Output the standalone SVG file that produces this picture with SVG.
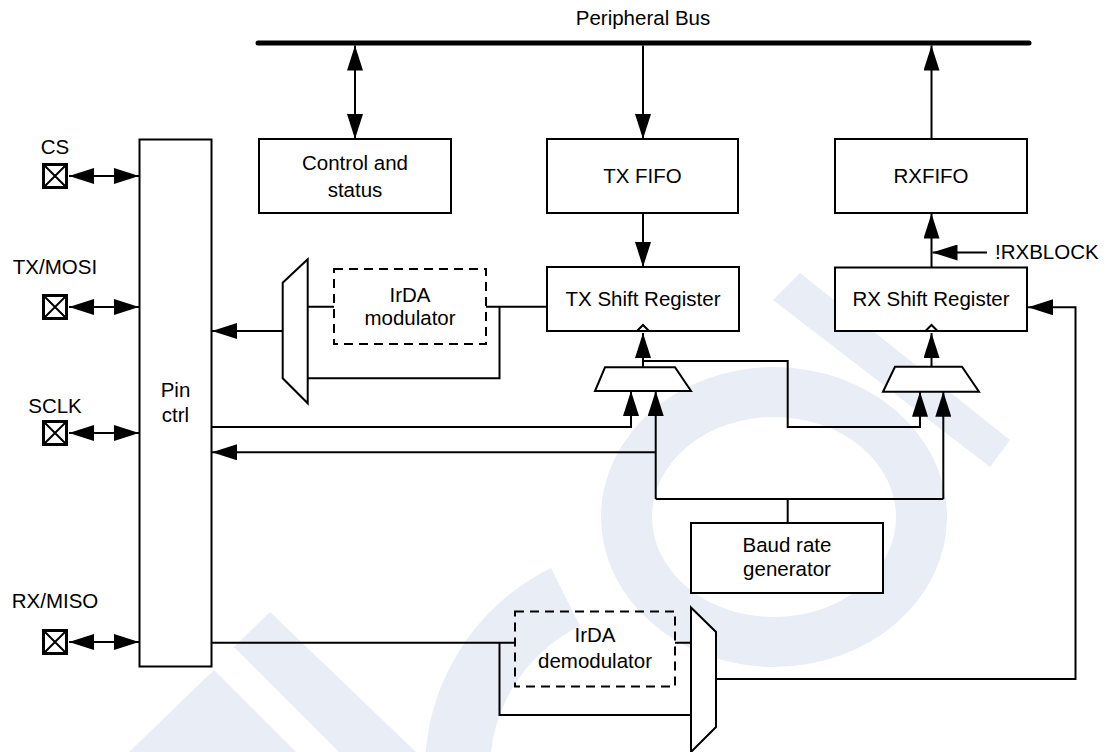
<svg xmlns="http://www.w3.org/2000/svg" width="1107" height="752" viewBox="0 0 1107 752">
<style>
text{font-family:"Liberation Sans",Arial,sans-serif;font-size:20.5px;fill:#000;text-anchor:middle}
.box{fill:#fff;stroke:#000;stroke-width:2}
.dash{fill:none;stroke:#000;stroke-width:2;stroke-dasharray:9 6}
.ln{fill:none;stroke:#000;stroke-width:2}
.pin{fill:#fff;stroke:#000;stroke-width:3}
.wm{fill:#e8edf6;stroke:none}
</style>
<defs>
<marker id="ah" markerUnits="userSpaceOnUse" markerWidth="25" markerHeight="16" refX="25" refY="8" orient="auto">
<path d="M0,0 L25,8 L0,16 z" fill="#000"/>
</marker>
<marker id="as" markerUnits="userSpaceOnUse" markerWidth="25" markerHeight="16" refX="25" refY="8" orient="auto-start-reverse">
<path d="M0,0 L25,8 L0,16 z" fill="#000"/>
</marker>
</defs>
<rect width="1107" height="752" fill="#fff"/>
<g id="watermark">
<path class="wm" fill-rule="evenodd" d="M601,517 a173,150 0 1,0 346,0 a173,150 0 1,0 -346,0 z M652,517 a122,100 0 1,0 244,0 a122,100 0 1,0 -244,0 z"/>
<path class="wm" d="M425,770 A225,225 0 0,1 551,568 L580,626 A160,160 0 0,0 490,770 z"/>
<polygon class="wm" points="129,752 214,670 296,752"/>
<polygon class="wm" points="234,647 270,612 416,752 339,752"/>
<polygon class="wm" points="773,300 800,273 1010,440 990,467"/>
</g>
<g id="bus">
<line x1="258" y1="43" x2="1029" y2="43" stroke="#000" stroke-width="5" stroke-linecap="round"/>
<text x="643" y="25">Peripheral Bus</text>
</g>
<g id="connectors">
<line class="ln" x1="355" y1="45.5" x2="355" y2="139" marker-start="url(#as)" marker-end="url(#ah)"/>
<line class="ln" x1="643" y1="45.5" x2="643" y2="139" marker-end="url(#ah)"/>
<line class="ln" x1="931.5" y1="139" x2="931.5" y2="45.5" marker-end="url(#ah)"/>
<line class="ln" x1="643" y1="213" x2="643" y2="267" marker-end="url(#ah)"/>
<line class="ln" x1="931.5" y1="267.5" x2="931.5" y2="213.5" marker-end="url(#ah)"/>
<line class="ln" x1="987" y1="252.5" x2="932.5" y2="252.5" marker-end="url(#ah)"/>
<path class="ln" d="M547,306.7 H486 M499.5,306.7 V378.3 H307.7 M334,306.7 H307.7"/>
<line class="ln" x1="282.7" y1="331" x2="212" y2="331" marker-end="url(#ah)"/>
<path class="ln" d="M212,427 H631 V391" marker-end="url(#ah)"/>
<path class="ln" d="M787.7,523 V499 M655.7,499 H943.3"/>
<path class="ln" d="M655.7,499 V391" marker-end="url(#ah)"/>
<path class="ln" d="M943.3,499 V391.7" marker-end="url(#ah)"/>
<path class="ln" d="M655.7,452.3 H212" marker-end="url(#ah)"/>
<path class="ln" d="M643,367.3 V333" marker-end="url(#ah)"/>
<path class="ln" d="M643,361 H787.7 V427 H920 V391.7" marker-end="url(#ah)"/>
<path class="ln" d="M931.5,366.7 V333" marker-end="url(#ah)"/>
<path class="ln" d="M212,642.7 H515 M499.5,642.7 V715 H691 M675,642.7 H691"/>
<path class="ln" d="M716,679 H1075.5 V307.3 H1028" marker-end="url(#ah)"/>
<line class="ln" x1="69" y1="176" x2="139" y2="176" marker-start="url(#as)" marker-end="url(#ah)"/>
<line class="ln" x1="69" y1="307" x2="139" y2="307" marker-start="url(#as)" marker-end="url(#ah)"/>
<line class="ln" x1="69" y1="433" x2="139" y2="433" marker-start="url(#as)" marker-end="url(#ah)"/>
<line class="ln" x1="69" y1="642" x2="139" y2="642" marker-start="url(#as)" marker-end="url(#ah)"/>
</g>
<g id="pin-cs">
<rect class="pin" x="43.5" y="164.5" width="23" height="23"/>
<path class="ln" d="M43.5,164.5 L66.5,187.5 M66.5,164.5 L43.5,187.5"/>
<text x="55" y="154">CS</text>
</g>
<g id="pin-txmosi">
<rect class="pin" x="43.5" y="295.5" width="23" height="23"/>
<path class="ln" d="M43.5,295.5 L66.5,318.5 M66.5,295.5 L43.5,318.5"/>
<text x="55" y="274">TX/MOSI</text>
</g>
<g id="pin-sclk">
<rect class="pin" x="43.5" y="421.5" width="23" height="23"/>
<path class="ln" d="M43.5,421.5 L66.5,444.5 M66.5,421.5 L43.5,444.5"/>
<text x="55" y="413">SCLK</text>
</g>
<g id="pin-rxmiso">
<rect class="pin" x="43.5" y="630.5" width="23" height="23"/>
<path class="ln" d="M43.5,630.5 L66.5,653.5 M66.5,630.5 L43.5,653.5"/>
<text x="55" y="608">RX/MISO</text>
</g>
<g id="pin-ctrl">
<rect class="box" x="139.5" y="139.5" width="72" height="527"/>
<text x="175.5" y="397">Pin</text>
<text x="175.5" y="422">ctrl</text>
</g>
<g id="control-status">
<rect class="box" x="259" y="139" width="192" height="74"/>
<text x="355" y="170">Control and</text>
<text x="355" y="196.5">status</text>
</g>
<g id="tx-fifo">
<rect class="box" x="547" y="139" width="191" height="74"/>
<text x="642.5" y="183">TX FIFO</text>
</g>
<g id="rx-fifo">
<rect class="box" x="835" y="139" width="192" height="74"/>
<text x="931" y="183">RXFIFO</text>
</g>
<g id="tx-shift">
<rect class="box" x="547" y="267" width="192" height="64"/>
<polyline class="ln" points="637,331 643,325 649,331"/>
<text x="643" y="306">TX Shift Register</text>
</g>
<g id="rx-shift">
<rect class="box" x="835" y="267.5" width="192" height="63.5"/>
<polyline class="ln" points="925.5,331 931.5,325 937.5,331"/>
<text x="931" y="306">RX Shift Register</text>
</g>
<g id="irda-mod">
<rect class="dash" x="334" y="269" width="152" height="75"/>
<text x="410" y="301.5">IrDA</text>
<text x="410" y="325">modulator</text>
</g>
<g id="tx-out-mux">
<polygon class="box" points="307.7,259.3 282.7,282.7 282.7,378.3 307.7,403.3"/>
</g>
<g id="tx-clk-mux">
<polygon class="box" points="605,367.3 675,367.3 691,391 595,391"/>
</g>
<g id="rx-clk-mux">
<polygon class="box" points="895,366.7 962,366.7 979,391.7 883,391.7"/>
</g>
<g id="baud">
<rect class="box" x="691" y="523" width="192" height="70"/>
<text x="787" y="551.5">Baud rate</text>
<text x="787" y="576">generator</text>
</g>
<g id="irda-demod">
<rect class="dash" x="515" y="611.5" width="160" height="75"/>
<text x="595" y="642">IrDA</text>
<text x="595" y="668">demodulator</text>
</g>
<g id="rx-in-mux">
<polygon class="box" points="691,607.5 716,632 716,727 691,752"/>
</g>
<g id="rxblock">
<text x="995" y="259" style="text-anchor:start">!RXBLOCK</text>
</g>
</svg>
